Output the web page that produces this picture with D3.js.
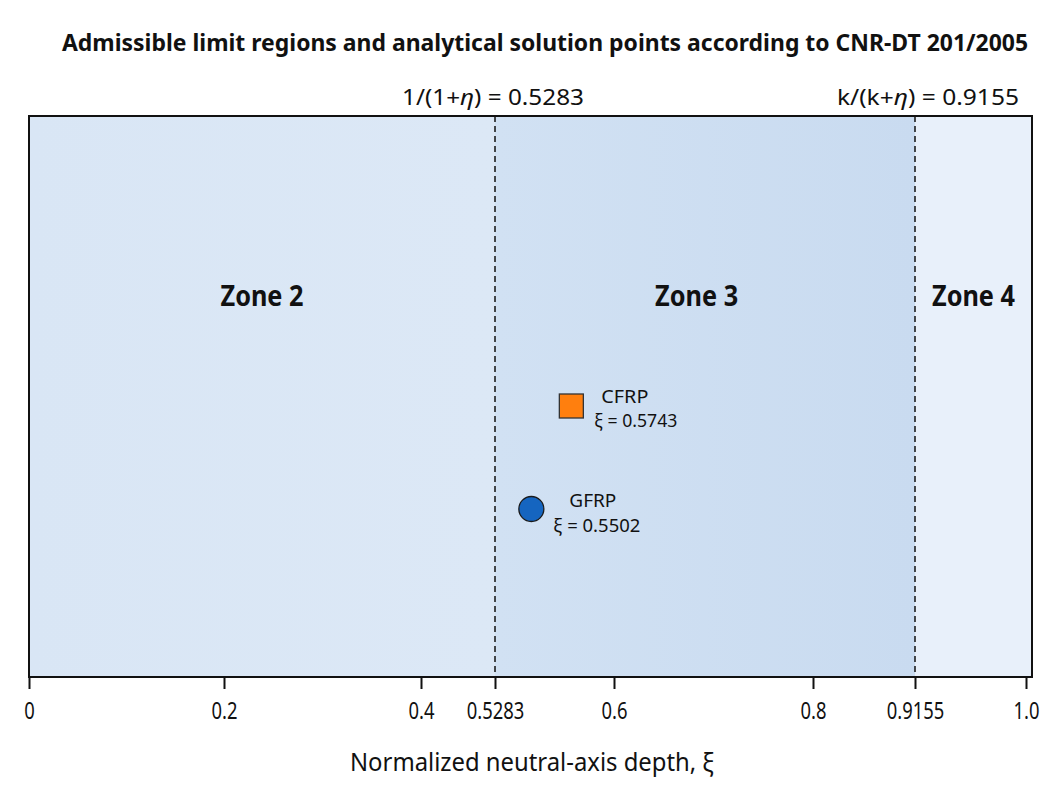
<!DOCTYPE html>
<html>
<head>
<meta charset="utf-8">
<script src="https://cdn.jsdelivr.net/npm/d3@7"></script>
<style>
  html, body { margin: 0; padding: 0; background: #ffffff; }
  svg { display: block; }
  text { font-family: "Noto Sans", "Open Sans", "DejaVu Sans", sans-serif; fill: #111; }
</style>
</head>
<body>
<svg id="chart" width="1061" height="800"></svg>
<script>
// ---- data ----
const titleText = "Admissible limit regions and analytical solution points according to CNR-DT 201/2005";
const xAxisLabel = "Normalized neutral-axis depth, \u03BE";
const tickValues = [0, 0.2, 0.4, 0.5283, 0.6, 0.8, 0.9155, 1.0];
const tickLabels = ["0", "0.2", "0.4", "0.5283", "0.6", "0.8", "0.9155", "1.0"];
const zoneNames = ["Zone 2", "Zone 3", "Zone 4"];
const zoneStarts = [0, 0.5283, 0.9155];
const zoneEnds = [0.5283, 0.9155, 1.006];
const limitValues = [0.5283, 0.9155];
const limitPrefix = ["1/(1+", "k/(k+"];
const limitSuffix = [") = 0.5283", ") = 0.9155"];
const materials = ["CFRP", "GFRP"];
const xiValues = [0.5743, 0.5502];

// ---- helpers ----
function fitWidth(sel, width) {
  sel.attr("textLength", width).attr("lengthAdjust", "spacingAndGlyphs");
}
function condense(sel, factor) {
  sel.each(function () {
    const w = this.getComputedTextLength();
    d3.select(this).attr("textLength", w * factor).attr("lengthAdjust", "spacingAndGlyphs");
  });
}

// ---- layout ----
const svg = d3.select("#chart");
const plotTop = 116, plotBottom = 677;
// piecewise scale matching the reference's axis placement
const x = d3.scaleLinear()
  .domain([0, 0.2, 0.4, 0.5283, 0.6, 0.8, 0.9155, 1.0, 1.006])
  .range([29, 224, 421, 495, 614, 813, 915, 1026, 1032]);
const y = d3.scalePoint().domain(materials).range([406, 509]);

const defs = svg.append("defs");
const g3 = defs.append("linearGradient").attr("id", "z3grad").attr("x1", "0").attr("x2", "1").attr("y1", "0").attr("y2", "0");
g3.append("stop").attr("offset", "0%").attr("stop-color", "#d1e1f3");
g3.append("stop").attr("offset", "100%").attr("stop-color", "#c9dbf0");
const g2 = defs.append("linearGradient").attr("id", "z2grad").attr("x1", "0").attr("x2", "1").attr("y1", "0").attr("y2", "0");
g2.append("stop").attr("offset", "0%").attr("stop-color", "#d9e6f5");
g2.append("stop").attr("offset", "100%").attr("stop-color", "#dce8f6");
const zoneFills = ["url(#z2grad)", "url(#z3grad)", "#e8f0fa"];

// zones
svg.append("g").selectAll("rect").data(zoneNames).join("rect")
  .attr("x", (d, i) => x(zoneStarts[i]))
  .attr("y", plotTop)
  .attr("width", (d, i) => x(zoneEnds[i]) - x(zoneStarts[i]))
  .attr("height", plotBottom - plotTop)
  .attr("fill", (d, i) => zoneFills[i]);

// zone labels
const zl = svg.append("g").selectAll("text").data(zoneNames).join("text")
  .attr("x", (d, i) => i === 1 ? x(zoneStarts[i]) + (x(zoneEnds[i]) - x(zoneStarts[i])) * 0.48 : (x(zoneStarts[i]) + x(zoneEnds[i])) / 2)
  .attr("y", 306)
  .attr("text-anchor", "middle")
  .attr("font-size", 29)
  .attr("font-weight", "bold")
  .text(d => d);
fitWidth(zl, 83);

// limit lines
svg.append("g").selectAll("line").data(limitValues).join("line")
  .attr("x1", d => x(d)).attr("x2", d => x(d))
  .attr("y1", plotTop).attr("y2", plotBottom)
  .attr("stroke", "#111").attr("stroke-width", 1.5)
  .attr("stroke-dasharray", "6,4");

// limit labels
const ll = svg.append("g").selectAll("text").data(limitValues).join("text")
  .attr("x", (d, i) => i === 0 ? x(d) - 2 : x(d) + 13)
  .attr("y", 105)
  .attr("text-anchor", "middle")
  .attr("font-size", 22);
ll.append("tspan").text((d, i) => limitPrefix[i]);
ll.append("tspan").attr("font-style", "italic").text("\u03B7");
ll.append("tspan").text((d, i) => limitSuffix[i]);
fitWidth(ll, 182);

// frame
svg.append("rect")
  .attr("x", x(0)).attr("y", plotTop)
  .attr("width", x(1.006) - x(0)).attr("height", plotBottom - plotTop)
  .attr("fill", "none").attr("stroke", "#111").attr("stroke-width", 2);

// axis
const axis = d3.axisBottom(x)
  .tickValues(tickValues)
  .tickFormat((d, i) => tickLabels[i])
  .tickSize(12)
  .tickSizeOuter(0)
  .tickPadding(9);
const ax = svg.append("g").attr("transform", `translate(0,${plotBottom})`).call(axis);
ax.select(".domain").remove();
ax.selectAll(".tick line").attr("stroke", "#111").attr("stroke-width", 2);
const tl = ax.selectAll(".tick text").attr("font-size", 23).attr("fill", "#111")
  .attr("font-family", "Noto Sans, Open Sans, sans-serif").attr("dy", "0.9em");
condense(tl, 0.8);

// points
const pts = svg.append("g");
const size = 24;
pts.append("rect")
  .attr("x", x(xiValues[0]) - size / 2)
  .attr("y", y(materials[0]) - size / 2)
  .attr("width", size).attr("height", size)
  .attr("fill", "#ff7f0e").attr("stroke", "#333").attr("stroke-width", 1.3);
pts.append("circle")
  .attr("cx", x(xiValues[1]))
  .attr("cy", y(materials[1]))
  .attr("r", 12.5)
  .attr("fill", "#1565c0").attr("stroke", "#1a1a1a").attr("stroke-width", 1.3);

// point labels: [name dx, name dy, value dx, value dy, name width, value width]
const labOffsets = [[30, -3, 23, 21, 47, 83], [38, -2, 22, 23, 47, 87]];
materials.forEach((m, i) => {
  const cx = x(xiValues[i]), cy = y(m);
  const o = labOffsets[i];
  svg.append("text").attr("x", cx + o[0]).attr("y", cy + o[1])
    .attr("font-size", 17.5).call(fitWidth, o[4]).text(m);
  svg.append("text").attr("x", cx + o[2]).attr("y", cy + o[3])
    .attr("font-size", 17.5).call(fitWidth, o[5]).text("\u03BE = " + xiValues[i].toFixed(4));
});

// title
svg.append("text")
  .attr("x", 545).attr("y", 51)
  .attr("text-anchor", "middle")
  .attr("font-size", 23)
  .attr("font-weight", "bold")
  .text(titleText)
  .call(fitWidth, 966);

// x axis title
svg.append("text")
  .attr("x", 532).attr("y", 771)
  .attr("text-anchor", "middle")
  .attr("font-size", 26)
  .attr("fill", "#222")
  .text(xAxisLabel)
  .call(fitWidth, 364);
</script>
</body>
</html>
